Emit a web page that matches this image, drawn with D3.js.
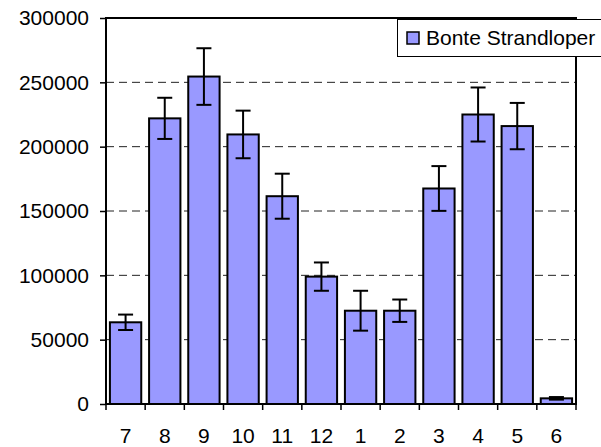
<!DOCTYPE html>
<html><head><meta charset="utf-8">
<script src="https://cdn.jsdelivr.net/npm/d3@7"></script>
<style>
body{margin:0;background:#fff;}
svg{display:block;font-family:"Liberation Sans",Arial,sans-serif;}
</style></head>
<body>
<svg id="c" width="601" height="447"></svg>
<script>
const categories = ["7","8","9","10","11","12","1","2","3","4","5","6"];
const values = [63500, 222000, 254500, 209500, 161500, 99000, 72500, 72500, 167500, 225000, 216000, 4400];
const errors = [6000, 16000, 22000, 18500, 17500, 11000, 15500, 8700, 17400, 21000, 18000, 1000];
const yTicks = [0, 50000, 100000, 150000, 200000, 250000, 300000];
const seriesName = "Bonte Strandloper";

const svg = d3.select("#c");
const L = 106, R = 576, T = 18, B = 404;
const x = d3.scaleBand().domain(categories).range([L, R]).paddingInner(0.2).paddingOuter(0.1);
const y = d3.scaleLinear().domain([0, 300000]).range([B, T]);
const fs = 21;

// gridlines
svg.append("g").selectAll("line").data(yTicks.filter(v => v > 0 && v < 300000)).join("line")
  .attr("x1", L).attr("x2", R).attr("y1", d => y(d)).attr("y2", d => y(d))
  .attr("stroke", "#222").attr("stroke-width", 1).attr("stroke-dasharray", "8,5");

// bars
svg.append("g").selectAll("rect").data(categories).join("rect")
  .attr("x", d => x(d)).attr("width", x.bandwidth())
  .attr("y", (d, i) => y(values[i])).attr("height", (d, i) => B - y(values[i]))
  .attr("fill", "#9999ff").attr("stroke", "#000").attr("stroke-width", 2);

// error bars
const eb = svg.append("g").attr("stroke", "#000").attr("stroke-width", 2);
categories.forEach((c, i) => {
  const cx = x(c) + x.bandwidth() / 2;
  const y1 = y(values[i] + errors[i]), y2 = y(values[i] - errors[i]);
  eb.append("line").attr("x1", cx).attr("x2", cx).attr("y1", y1).attr("y2", y2);
  eb.append("line").attr("x1", cx - 7.5).attr("x2", cx + 7.5).attr("y1", y1).attr("y2", y1);
  eb.append("line").attr("x1", cx - 7.5).attr("x2", cx + 7.5).attr("y1", y2).attr("y2", y2);
});

// frame
svg.append("rect").attr("x", L).attr("y", T).attr("width", R - L).attr("height", B - T)
  .attr("fill", "none").attr("stroke", "#000").attr("stroke-width", 2);

// y axis
const ya = svg.append("g").attr("transform", `translate(${L},0)`)
  .call(d3.axisLeft(y).tickValues(yTicks).tickFormat(d3.format("d")).tickSize(6).tickPadding(11));
ya.select(".domain").remove();
ya.selectAll("line").attr("stroke", "#000").attr("stroke-width", 1.5);
ya.selectAll("text").attr("font-size", fs).attr("font-family", "Liberation Sans, Arial, sans-serif").attr("fill", "#000");

// x axis
const step = x.step();
const bounds = categories.map(c => x(c) - step * x.paddingInner() / 2).concat([R]);
svg.append("g").selectAll("line").data(bounds).join("line")
  .attr("x1", d => d).attr("x2", d => d).attr("y1", B).attr("y2", B + 6)
  .attr("stroke", "#000").attr("stroke-width", 1.5);
svg.append("g").selectAll("text").data(categories).join("text")
  .attr("x", d => x(d) + x.bandwidth() / 2).attr("y", 443)
  .attr("text-anchor", "middle").attr("font-size", fs).attr("fill", "#000").text(d => d);

// legend
const lg = svg.append("g");
lg.append("rect").attr("x", 397.5).attr("y", 19.5).attr("width", 210).attr("height", 37)
  .attr("fill", "#fff").attr("stroke", "#000").attr("stroke-width", 1);
lg.append("rect").attr("x", 407).attr("y", 32).attr("width", 12).attr("height", 12)
  .attr("fill", "#9999ff").attr("stroke", "#000").attr("stroke-width", 1.5);
lg.append("text").attr("x", 426).attr("y", 44.5).attr("font-size", fs).attr("fill", "#000").text(seriesName);
</script>
</body></html>
